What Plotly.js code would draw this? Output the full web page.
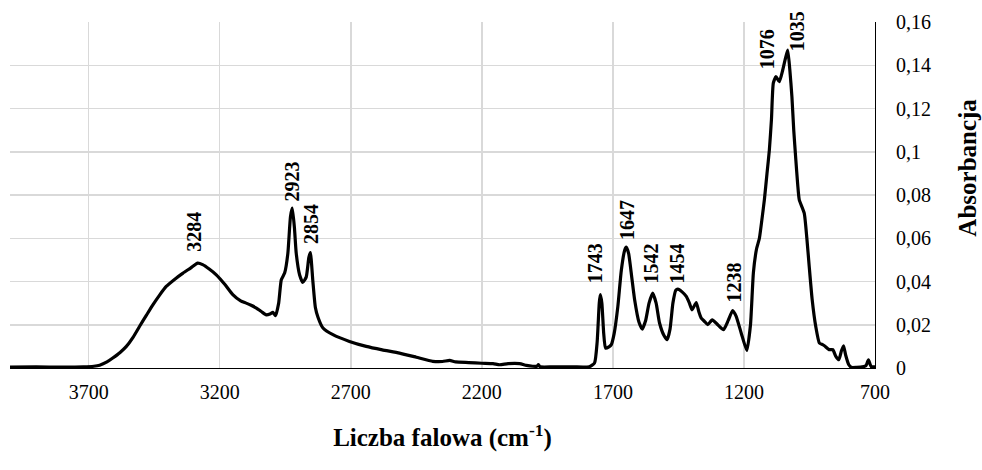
<!DOCTYPE html>
<html>
<head>
<meta charset="utf-8">
<script src="https://cdn.plot.ly/plotly-3.0.1.min.js"></script>
<style>html,body{margin:0;padding:0;background:#fff;}#chart{width:982px;height:470px;}</style>
</head>
<body>
<div id="chart"></div>
<script>
// Wavenumber (cm-1) and absorbance
const wavenumber = [4000,3900,3800,3720,3680,3658,3630,3608,3580,3556,3530,3506,3480,3455,3430,3404,3370,3340,3310,3284,3265,3240,3213,3180,3150,3120,3099,3080,3060,3040,3022,3008,2997,2987,2975,2965,2952,2940,2930,2923,2915,2908,2895,2883,2870,2860,2854,2845,2835,2825,2806,2768,2705,2641,2580,2514,2450,2387,2350,2323,2300,2250,2200,2157,2132,2100,2056,2030,2006,1990,1984,1978,1930,1850,1790,1770,1760,1752,1748,1742,1735,1728,1715,1706,1695,1681,1668,1655,1649,1640,1628,1617,1600,1588,1575,1562,1548,1535,1522,1505,1493,1482,1471,1460,1452,1436,1420,1408,1398,1382,1372,1363,1350,1338,1321,1300,1278,1260,1243,1230,1210,1189,1175,1164,1152,1141,1130,1122,1112,1103,1095,1088,1078,1065,1052,1042,1033,1025,1017,1010,1002,995,989,970,960,951,940,926,912,900,893,875,861,850,838,828,820,812,800,790,770,755,735,725,715,700];
const absorbance = [0.0004,0.0005,0.0004,0.0005,0.0008,0.0013,0.0028,0.0046,0.0072,0.0100,0.0143,0.0192,0.0243,0.0292,0.0336,0.0377,0.0412,0.0439,0.0463,0.0485,0.0478,0.0458,0.0431,0.0386,0.0339,0.0310,0.0300,0.0290,0.0277,0.0260,0.0246,0.0250,0.0257,0.0242,0.0300,0.0408,0.0440,0.0530,0.0700,0.0739,0.0650,0.0530,0.0430,0.0396,0.0420,0.0510,0.0534,0.0408,0.0280,0.0235,0.0185,0.0154,0.0123,0.0100,0.0084,0.0069,0.0050,0.0031,0.0030,0.0035,0.0028,0.0025,0.0022,0.0020,0.0015,0.0020,0.0020,0.0012,0.0008,0.0008,0.0016,0.0006,0.0005,0.0005,0.0006,0.0023,0.0120,0.0300,0.0339,0.0300,0.0160,0.0092,0.0098,0.0108,0.0160,0.0285,0.0450,0.0545,0.0559,0.0530,0.0420,0.0316,0.0210,0.0180,0.0220,0.0300,0.0346,0.0300,0.0208,0.0150,0.0131,0.0180,0.0300,0.0360,0.0365,0.0352,0.0331,0.0300,0.0269,0.0303,0.0260,0.0231,0.0215,0.0200,0.0223,0.0200,0.0177,0.0220,0.0266,0.0240,0.0160,0.0081,0.0200,0.0440,0.0550,0.0600,0.0700,0.0778,0.0900,0.1009,0.1150,0.1317,0.1347,0.1324,0.1378,0.1430,0.1470,0.1380,0.1255,0.1100,0.0962,0.0850,0.0778,0.0716,0.0600,0.0470,0.0320,0.0192,0.0115,0.0108,0.0103,0.0085,0.0085,0.0055,0.0038,0.0080,0.0103,0.0060,0.0015,0.0003,0.0003,0.0004,0.0010,0.0038,0.0007,0.0005];

// Peak labels
const peakLabels = [3284,2923,2854,1743,1647,1542,1454,1238,1076,1035];

// Axis ticks
const xTickVals = [3700,3200,2700,2200,1700,1200,700];
const xTickText = ['3700','3200','2700','2200','1700','1200','700'];
const yTickVals = [0,0.02,0.04,0.06,0.08,0.1,0.12,0.14,0.16];
const yTickText = ['0','0,02','0,04','0,06','0,08','0,1','0,12','0,14','0,16'];

const FONT = '"Liberation Serif", "Times New Roman", serif';

// label nudges (pixels) for layout only
const nudge = {3284:[-4,9],2923:[0,5],2854:[0,7],1743:[-7,9],1647:[0,5],1542:[-3,8],1454:[0,4],1238:[0,6],1076:[-10,6],1035:[10,-3]};

function peakValue(w){
  let best = 0;
  for(let i=0;i<wavenumber.length;i++){
    if(Math.abs(wavenumber[i]-w) <= 15 && absorbance[i] > best) best = absorbance[i];
  }
  return best;
}

const annotations = peakLabels.map(p => ({
  x: p, y: peakValue(p), xref:'x', yref:'y',
  text: '<b>' + p + '</b>', showarrow:false, textangle:-90,
  xanchor:'center', yanchor:'bottom',
  xshift: (nudge[p]||[0,0])[0], yshift: (nudge[p]||[0,6])[1],
  font:{family:FONT, size:20, color:'#000'}
}));

// y-axis title (placed like the reference, above the plot's centre)
annotations.push({
  xref:'paper', yref:'paper', x:1.1075, y:0.579,
  xanchor:'center', yanchor:'middle', showarrow:false, textangle:-90,
  text:'<b>Absorbancja</b>',
  font:{family:FONT, size:25, color:'#000'}
});

const trace = {
  x: wavenumber, y: absorbance, type:'scatter', mode:'lines',
  line:{color:'#000', width:3.2, shape:'spline', smoothing:0.5},
  hoverinfo:'skip'
};

const layout = {
  width:982, height:470,
  margin:{l:10, r:107, t:22, b:102},
  paper_bgcolor:'#fff', plot_bgcolor:'#fff',
  showlegend:false,
  xaxis:{
    range:[4000,700], autorange:false,
    tickvals:xTickVals, ticktext:xTickText,
    showgrid:true, gridcolor:'#d9d9d9', gridwidth:1.5,
    zeroline:false, showline:true, linecolor:'#000', linewidth:1,
    ticks:'', ticklabelstandoff:6,
    tickfont:{family:FONT, size:20, color:'#000'},
    title:{text:'<b>Liczba falowa (cm<sup>-1</sup>)</b>', font:{family:FONT, size:25, color:'#000'}, standoff:26}
  },
  yaxis:{
    side:'right', range:[0,0.16], autorange:false,
    tickvals:yTickVals, ticktext:yTickText,
    showgrid:true, gridcolor:'#d9d9d9', gridwidth:1.5,
    zeroline:false, showline:true, linecolor:'#000', linewidth:1,
    ticks:'', ticklabelstandoff:16,
    tickfont:{family:FONT, size:20, color:'#000'}
  },
  annotations: annotations
};

Plotly.newPlot('chart', [trace], layout, {staticPlot:true, displayModeBar:false});
</script>
</body>
</html>
